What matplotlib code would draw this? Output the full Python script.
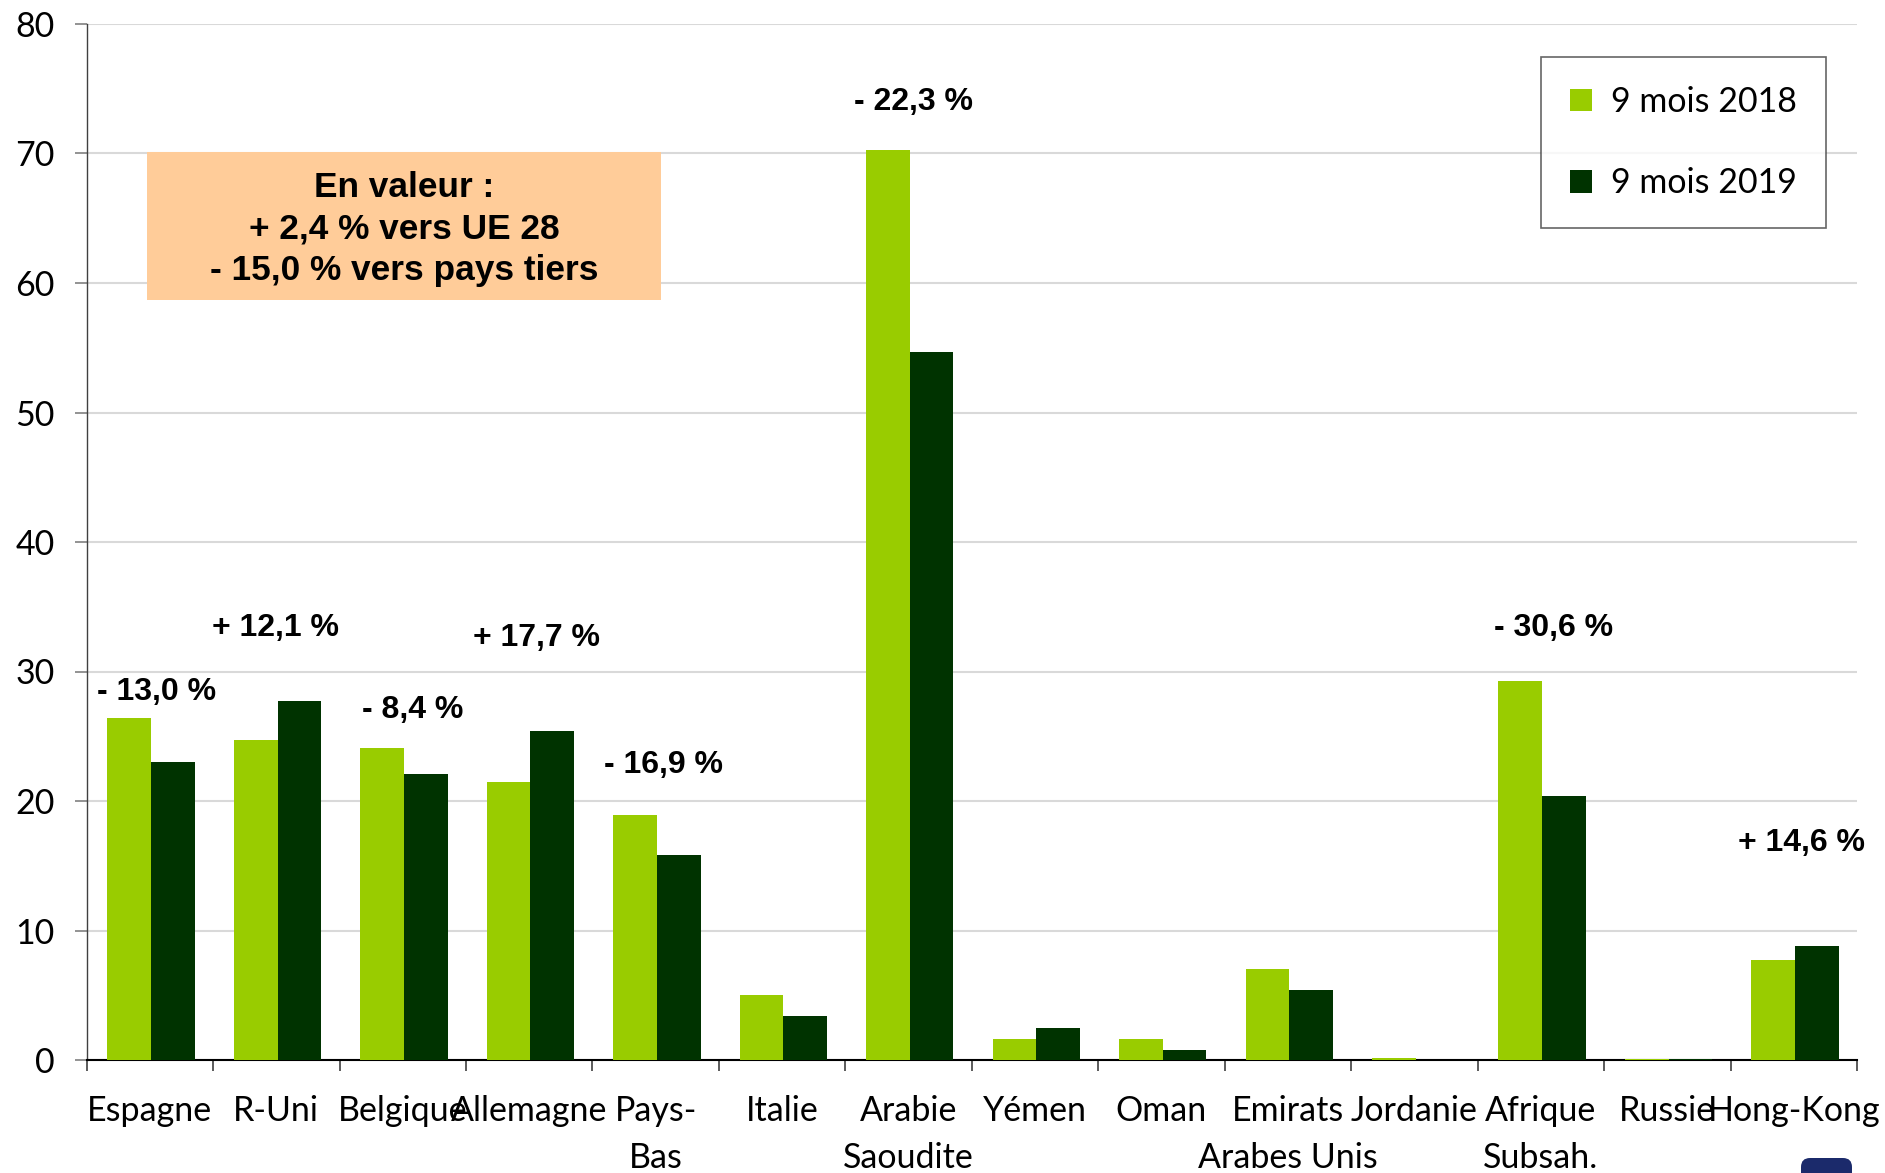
import matplotlib
matplotlib.use("Agg")
import matplotlib.pyplot as plt
import numpy as np
from matplotlib.patches import Rectangle, FancyBboxPatch, Patch
from matplotlib.transforms import IdentityTransform

# ---- data ----
categories = ["Espagne", "R-Uni", "Belgique", "Allemagne", "Pays-\nBas", "Italie",
              "Arabie\nSaoudite", "Yémen", "Oman", "Emirats\nArabes Unis", "Jordanie",
              "Afrique\nSubsah.", "Russie", "Hong-Kong"]
values_2018 = [26.4, 24.7, 24.1, 21.5, 18.9, 5.0, 70.3, 1.6, 1.6, 7.0, 0.12, 29.3, 0.08, 7.7]
values_2019 = [23.0, 27.7, 22.1, 25.4, 15.8, 3.4, 54.7, 2.5, 0.8, 5.4, 0.0, 20.4, 0.05, 8.8]
series_names = ["9 mois 2018", "9 mois 2019"]
change_labels = ["- 13,0 %", "+ 12,1 %", "- 8,4 %", "+ 17,7 %", "- 16,9 %",
                 "- 22,3 %", "- 30,6 %", "+ 14,6 %"]
box_lines = ["En valeur :", "+ 2,4 % vers UE 28", "- 15,0 % vers pays tiers"]
y_ticks = [0, 10, 20, 30, 40, 50, 60, 70, 80]

# ---- layout / style (not data) ----
change_pos = [(0.05, 28.45), (0.99, 33.35), (2.08, 27.05), (3.06, 32.55), (4.06, 22.75),
              (6.04, 73.95), (11.10, 33.35), (13.06, 16.75)]
c_light = "#99CC00"
c_dark = "#003300"
W, H = 1885, 1173
DPI = 100

fig = plt.figure(figsize=(W / DPI, H / DPI), dpi=DPI)
ax = fig.add_axes([86.6 / W, 1 - 1060 / H, (1857 - 86.6) / W, (1060 - 24) / H])

x = np.arange(len(categories))
bw = 0.345
ax.bar(x - bw / 2 + 0.01, values_2018, width=bw, color=c_light, zorder=3, linewidth=0)
ax.bar(x + bw / 2 + 0.01, values_2019, width=bw, color=c_dark, zorder=3, linewidth=0)

ax.set_xlim(-0.5, len(categories) - 0.5)
ax.set_ylim(0, 80)
ax.yaxis.grid(True, color="#D9D9D9", linewidth=1.5, zorder=0)
ax.set_axisbelow(True)

tick_font = "Lato"
ax.set_yticks(y_ticks)
ax.set_yticklabels([str(v) for v in y_ticks], fontsize=24.5, family=tick_font)
ax.tick_params(axis="y", direction="out", length=9, width=1.2, color="#808080", pad=14)

ax.set_xticks(x)
ax.set_xticklabels(categories, fontsize=24.5, family=tick_font, linespacing=1.58)
ax.tick_params(axis="x", which="major", length=0, pad=25)
ax.set_xticks(np.arange(-0.5, len(categories), 1.0), minor=True)
ax.tick_params(axis="x", which="minor", direction="out", length=8, width=1.2, color="#404040")

for s in ["top", "right"]:
    ax.spines[s].set_visible(False)
ax.spines["left"].set_color("#404040")
ax.spines["left"].set_linewidth(1.0)
ax.spines["bottom"].set_color("#000000")
ax.spines["bottom"].set_linewidth(1.5)

# change annotations
for lab, (px, py) in zip(change_labels, change_pos):
    ax.text(px, py, lab, ha="center", va="center", fontsize=23, fontweight="bold",
            family="Liberation Sans", zorder=5)

# orange text box
x0, x1 = -0.025, 4.042
y0, y1 = 58.65, 70.15
ax.add_patch(Rectangle((x0, y0), x1 - x0, y1 - y0, facecolor="#FFCC99",
                       edgecolor="none", zorder=4))
ax.text((x0 + x1) / 2, (y0 + y1) / 2 - 0.25, "\n".join(box_lines), ha="center", va="center",
        fontsize=25.4, fontweight="bold", family="Liberation Sans", linespacing=1.33,
        zorder=5)

# legend
handles = [Patch(facecolor=c_light, edgecolor="none"), Patch(facecolor=c_dark, edgecolor="none")]
leg = fig.legend(handles, series_names, loc="upper right",
                 bbox_to_anchor=(1826 / W, 1 - 57 / H), bbox_transform=fig.transFigure,
                 borderaxespad=0, fancybox=False, frameon=True,
                 prop={"family": tick_font, "size": 24.5},
                 handlelength=0.65, handleheight=0.65, handletextpad=0.55,
                 labelspacing=1.45, borderpad=0.85)
leg.get_frame().set_edgecolor("#404040")
leg.get_frame().set_linewidth(1.2)

# partial logo at bottom-right
logo = FancyBboxPatch((1801, -20), 51, 35, boxstyle="round,pad=0,rounding_size=9",
                      facecolor="#1B2A6B", edgecolor="none", transform=IdentityTransform())
fig.patches.append(logo)

fig.savefig("out.png", dpi=DPI)
